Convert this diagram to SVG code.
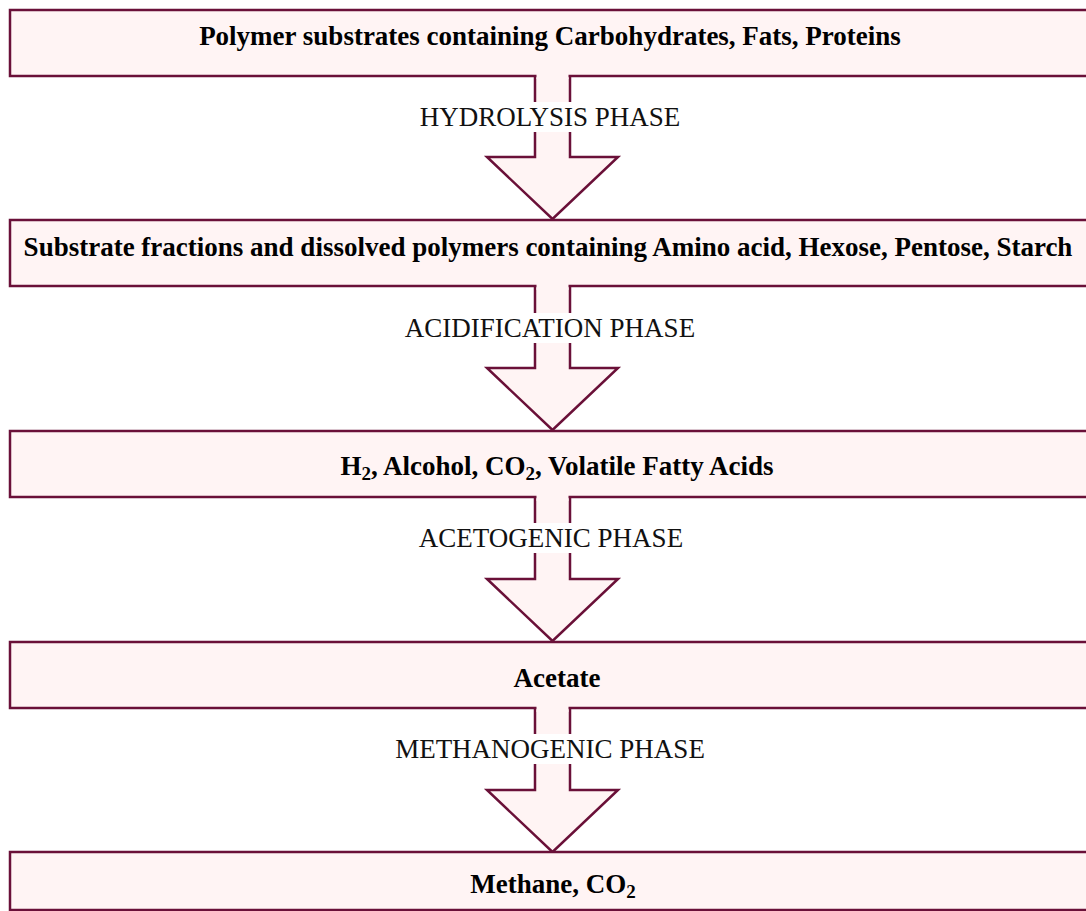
<svg xmlns="http://www.w3.org/2000/svg" width="1086" height="911" viewBox="0 0 1086 911">
  <style>
    .box { fill: #fff4f4; stroke: #6a1038; stroke-width: 2.5; }
    .arrow-fill { fill: #fff4f4; stroke: none; }
    .arrow-line { fill: none; stroke: #6a1038; stroke-width: 2.5; stroke-linejoin: miter; }
    .title { font-family: "Liberation Serif", "Times New Roman", serif; font-weight: bold; font-size: 27px; fill: #000; text-anchor: middle; }
    .phase { font-family: "Liberation Serif", "Times New Roman", serif; font-size: 27px; fill: #111; text-anchor: middle; }
    .label-bg { fill: #ffffff; }
  </style>

  <rect width="1086" height="911" fill="#ffffff"/>

  <!-- Block arrows between stages -->
  <g id="connectors">
    <g id="arrow-hydrolysis">
      <path class="arrow-fill" d="M535 74 V157 H487 L552.5 219 L618 157 H570 V74 Z"/>
      <path class="arrow-line" d="M535 76 V157 H487 L552.5 219 L618 157 H570 V76"/>
      <rect class="label-bg" x="416" y="102" width="268" height="30"/>
      <text class="phase" x="550" y="126">HYDROLYSIS PHASE</text>
    </g>
    <g id="arrow-acidification">
      <path class="arrow-fill" d="M535 285 V368 H487 L552.5 430 L618 368 H570 V285 Z"/>
      <path class="arrow-line" d="M535 287 V368 H487 L552.5 430 L618 368 H570 V287"/>
      <rect class="label-bg" x="400" y="313" width="300" height="30"/>
      <text class="phase" x="550" y="337">ACIDIFICATION PHASE</text>
    </g>
    <g id="arrow-acetogenic">
      <path class="arrow-fill" d="M535 496 V579 H487 L552.5 641 L618 579 H570 V496 Z"/>
      <path class="arrow-line" d="M535 498 V579 H487 L552.5 641 L618 579 H570 V498"/>
      <rect class="label-bg" x="414" y="523" width="274" height="30"/>
      <text class="phase" x="551" y="547">ACETOGENIC PHASE</text>
    </g>
    <g id="arrow-methanogenic">
      <path class="arrow-fill" d="M535 707 V790 H487 L552.5 852 L618 790 H570 V707 Z"/>
      <path class="arrow-line" d="M535 709 V790 H487 L552.5 852 L618 790 H570 V709"/>
      <rect class="label-bg" x="389" y="734" width="322" height="30"/>
      <text class="phase" x="550" y="758">METHANOGENIC PHASE</text>
    </g>
  </g>

  <!-- Stage boxes -->
  <g id="node-polymers">
    <rect class="box" x="10" y="10" width="1090" height="66"/>
    <text class="title" x="550" y="45">Polymer substrates containing Carbohydrates, Fats, Proteins</text>
  </g>
  <g id="node-fractions">
    <rect class="box" x="10" y="220" width="1090" height="66"/>
    <text class="title" x="548" y="256">Substrate fractions and dissolved polymers containing Amino acid, Hexose, Pentose, Starch</text>
  </g>
  <g id="node-intermediates">
    <rect class="box" x="10" y="431" width="1090" height="66"/>
    <text class="title" x="557" y="475">H<tspan font-size="19" dy="5">2</tspan><tspan dy="-5">, Alcohol, CO</tspan><tspan font-size="19" dy="5">2</tspan><tspan dy="-5">, Volatile Fatty Acids</tspan></text>
  </g>
  <g id="node-acetate">
    <rect class="box" x="10" y="642" width="1090" height="66"/>
    <text class="title" x="557" y="687">Acetate</text>
  </g>
  <g id="node-methane">
    <rect class="box" x="10" y="852" width="1090" height="58"/>
    <text class="title" x="553" y="893">Methane, CO<tspan font-size="19" dy="5">2</tspan></text>
  </g>

  <!-- Redraw arrow shafts over box borders so the gaps stay open -->
  <g id="shaft-joins">
    <rect class="arrow-fill" x="536.5" y="73" width="32" height="6"/>
    <rect class="arrow-fill" x="536.5" y="284" width="32" height="6"/>
    <rect class="arrow-fill" x="536.5" y="495" width="32" height="6"/>
    <rect class="arrow-fill" x="536.5" y="706" width="32" height="6"/>
  </g>
</svg>
